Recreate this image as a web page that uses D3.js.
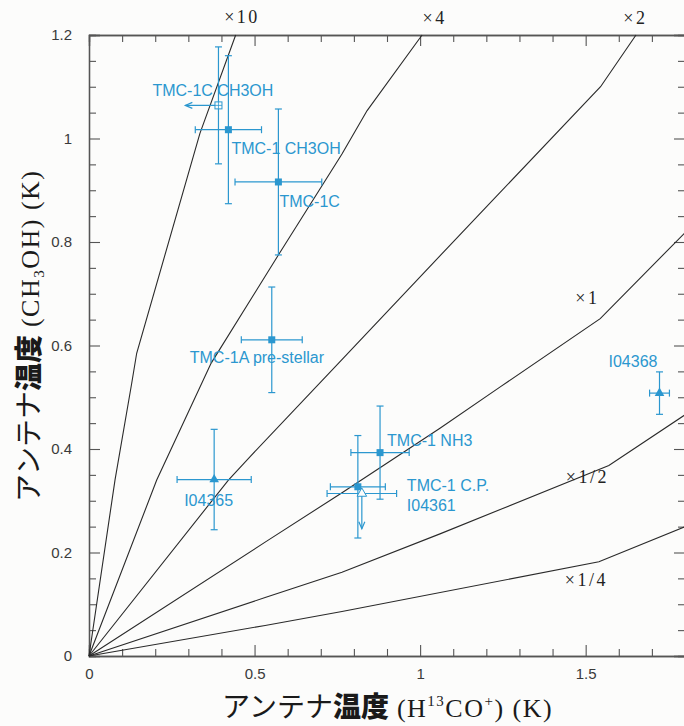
<!DOCTYPE html>
<html>
<head>
<meta charset="utf-8">
<script src="https://cdn.jsdelivr.net/npm/d3@7/dist/d3.min.js"></script>
<style>
  body { margin: 0; background: #fcfcfb; }
  svg { display: block; }
</style>
</head>
<body>
<svg id="chart" width="684" height="726"></svg>
<script>
// tick values and labels
const xMajorTicks = [0, 0.5, 1, 1.5];
const xTickLabels = ["0", "0.5", "1", "1.5"];
const xMinorTicks = [0.1, 0.2, 0.3, 0.4, 0.6, 0.7, 0.8, 0.9, 1.1, 1.2, 1.3, 1.4, 1.6, 1.7];
const yMajorTicks = [0, 0.2, 0.4, 0.6, 0.8, 1.0, 1.2];
const yTickLabels = ["0", "0.2", "0.4", "0.6", "0.8", "1", "1.2"];
const yMinorTicks = [0.05, 0.1, 0.15, 0.25, 0.3, 0.35, 0.45, 0.5, 0.55, 0.65, 0.7, 0.75,
                     0.85, 0.9, 0.95, 1.05, 1.1, 1.15];

// ratio curves (x = T(H13CO+), y = T(CH3OH))
const curveNames = ["×10", "×4", "×2", "×1", "×1/2", "×1/4"];
const curveX10 = [[0, 0], [0.0785, 0.34], [0.129, 0.527], [0.144, 0.585], [0.335, 1.01], [0.443, 1.2]];
const curveX4 = [[0, 0], [0.2045, 0.34], [0.369, 0.566], [0.571, 0.774], [0.764, 0.97], [0.84, 1.054], [1.006, 1.2]];
const curveX2 = [[0, 0], [0.421, 0.34], [0.486, 0.385], [0.761, 0.571], [0.99, 0.726], [1.218, 0.88], [1.545, 1.1], [1.652, 1.2]];
const curveX1 = [[0, 0], [0.532, 0.22], [0.763, 0.315], [1.06, 0.44], [1.242, 0.52], [1.544, 0.652], [1.8, 0.818]];
const curveXHalf = [[0, 0], [0.532, 0.113], [0.764, 0.162], [1.06, 0.236], [1.57, 0.368], [1.8, 0.466]];
const curveXQuarter = [[0, 0], [0.532, 0.059], [0.764, 0.086], [1.54, 0.182], [1.8, 0.25]];
const curves = [curveX10, curveX4, curveX2, curveX1, curveXHalf, curveXQuarter];
// where each ratio label sits (data units, text baseline)
const curveLabelX = [0.462, 1.044, 1.65, 1.505, 1.505, 1.502];
const curveLabelY = [1.224, 1.221, 1.221, 0.681, 0.335, 0.135];

// observed sources
const sourceNames = ["TMC-1C CH3OH", "TMC-1 CH3OH", "TMC-1C", "TMC-1A pre-stellar", "I04365",
                     "TMC-1 NH3", "TMC-1 C.P.", "I04361", "I04368"];
const sourceX    = [0.391, 0.421, 0.572, 0.552, 0.378, 0.879, 0.812, 0.824, 1.723];
const sourceY    = [1.064, 1.017, 0.916, 0.611, 0.341, 0.393, 0.327, 0.314, 0.508];
const sourceXErr = [0,     0.100, 0.131, 0.092, 0.112, 0.088, 0.083, 0.105, 0.030];
const sourceYErr = [0.113, 0.143, 0.141, 0.102, 0.097, 0.090, 0.099, 0,     0.041];
const sourceMarker = ["openSquare", "square", "square", "square", "triangle",
                      "square", "square", "openTriangle", "triangle"];
// upper limits: arrow length in K along x (left) or y (down)
const sourceXLimit = [0.1, 0, 0, 0, 0, 0, 0, 0, 0];
const sourceYLimit = [0, 0, 0, 0, 0, 0, 0, 0.068, 0];

// label offsets from the marker, px
const labelDx = [-66, 3, 1, -82, -30, 7, 49, 45, -51];
const labelDy = [-9, 24, 25, 23, 26, -7, 4, 17, -26];

const blue = "#2b97cf";
const svg = d3.select("#chart");
const margin = {left: 89, top: 35};
const plotW = 596, plotH = 621;

const x = d3.scaleLinear().domain([0, 1.8]).range([0, plotW]);
const y = d3.scaleLinear().domain([0, 1.2]).range([plotH, 0]);

const g = svg.append("g").attr("transform", `translate(${margin.left},${margin.top})`);

// axes: major and minor ticks on all four sides, pointing inward
function styleAxis(sel) {
  sel.select(".domain").attr("stroke", "#555").attr("stroke-width", 1.3);
  sel.selectAll(".tick line").attr("stroke", "#555").attr("stroke-width", 1.1);
  sel.selectAll("text").attr("fill", "#3a3a3a").style("font-family", "Liberation Sans, Arial, sans-serif")
    .style("font-size", "15px");
}

g.append("g").attr("transform", `translate(0,${plotH})`)
  .call(d3.axisBottom(x).tickValues(xMajorTicks).tickSize(-11).tickPadding(12)
    .tickFormat((d, i) => xTickLabels[i]))
  .call(styleAxis);
g.append("g").attr("transform", `translate(0,${plotH})`)
  .call(d3.axisBottom(x).tickValues(xMinorTicks).tickSize(-7).tickFormat(""))
  .call(styleAxis);
g.append("g")
  .call(d3.axisTop(x).tickValues(xMajorTicks).tickSize(-11).tickFormat(""))
  .call(styleAxis);
g.append("g")
  .call(d3.axisTop(x).tickValues(xMinorTicks).tickSize(-7).tickFormat(""))
  .call(styleAxis);

g.append("g")
  .call(d3.axisLeft(y).tickValues(yMajorTicks).tickSize(-11).tickPadding(17)
    .tickFormat((d, i) => yTickLabels[i]))
  .call(styleAxis);
g.append("g")
  .call(d3.axisLeft(y).tickValues(yMinorTicks).tickSize(-7).tickFormat(""))
  .call(styleAxis);
g.append("g").attr("transform", `translate(${plotW},0)`)
  .call(d3.axisRight(y).tickValues(yMajorTicks).tickSize(-11).tickFormat(""))
  .call(styleAxis);
g.append("g").attr("transform", `translate(${plotW},0)`)
  .call(d3.axisRight(y).tickValues(yMinorTicks).tickSize(-7).tickFormat(""))
  .call(styleAxis);

// ratio curves
const line = d3.line().x(d => x(d[0])).y(d => y(d[1]));
g.append("g").selectAll("path")
  .data(curves)
  .enter()
  .append("path")
  .attr("d", line)
  .attr("fill", "none")
  .attr("stroke", "#2a2a2a")
  .attr("stroke-width", 1.1);

g.append("g").selectAll("text")
  .data(curveNames)
  .enter()
  .append("text")
  .text(d => d)
  .attr("x", (d, i) => x(curveLabelX[i]))
  .attr("y", (d, i) => y(curveLabelY[i]))
  .attr("text-anchor", "middle")
  .attr("fill", "#222")
  .style("font-family", "Liberation Serif, Times New Roman, serif")
  .style("font-size", "18px")
  .style("letter-spacing", "2.5px");

// error bars, limits and markers
const pts = g.append("g").attr("stroke", blue).attr("fill", blue).attr("stroke-width", 1.2);
const cap = 3.5;

sourceNames.forEach((name, i) => {
  const cx = x(sourceX[i]), cy = y(sourceY[i]);
  const s = pts.append("g");
  if (sourceXErr[i] > 0) {
    const x0 = x(sourceX[i] - sourceXErr[i]), x1 = x(sourceX[i] + sourceXErr[i]);
    s.append("line").attr("x1", x0).attr("x2", x1).attr("y1", cy).attr("y2", cy);
    s.append("line").attr("x1", x0).attr("x2", x0).attr("y1", cy - cap).attr("y2", cy + cap);
    s.append("line").attr("x1", x1).attr("x2", x1).attr("y1", cy - cap).attr("y2", cy + cap);
  }
  if (sourceYErr[i] > 0) {
    const y0 = y(sourceY[i] - sourceYErr[i]), y1 = y(sourceY[i] + sourceYErr[i]);
    s.append("line").attr("x1", cx).attr("x2", cx).attr("y1", y0).attr("y2", y1);
    s.append("line").attr("x1", cx - cap).attr("x2", cx + cap).attr("y1", y0).attr("y2", y0);
    s.append("line").attr("x1", cx - cap).attr("x2", cx + cap).attr("y1", y1).attr("y2", y1);
  }
  if (sourceXLimit[i] > 0) {
    const xe = x(sourceX[i] - sourceXLimit[i]);
    s.append("line").attr("x1", cx).attr("x2", xe).attr("y1", cy).attr("y2", cy);
    s.append("path").attr("d", `M${xe + 7},${cy - 3}L${xe},${cy}L${xe + 7},${cy + 3}`).attr("fill", "none");
  }
  if (sourceYLimit[i] > 0) {
    const ye = y(sourceY[i] - sourceYLimit[i]);
    s.append("line").attr("x1", cx).attr("x2", cx).attr("y1", cy).attr("y2", ye);
    s.append("path").attr("d", `M${cx - 3},${ye - 7}L${cx},${ye}L${cx + 3},${ye - 7}`).attr("fill", "none");
  }
  const m = sourceMarker[i];
  if (m === "square") {
    s.append("rect").attr("x", cx - 3.5).attr("y", cy - 3.5).attr("width", 7).attr("height", 7)
      .attr("stroke", "none");
  } else if (m === "openSquare") {
    s.append("rect").attr("x", cx - 3.5).attr("y", cy - 3.5).attr("width", 7).attr("height", 7)
      .attr("fill", "#fcfcfb").attr("stroke-width", 1);
    s.append("path").attr("d", `M${cx - 3.5},${cy}H${cx + 3.5}M${cx},${cy - 3.5}V${cy + 3.5}`)
      .attr("stroke-width", 0.8);
  } else if (m === "triangle") {
    s.append("path").attr("d", d3.symbol(d3.symbolTriangle, 40)())
      .attr("transform", `translate(${cx},${cy})`).attr("stroke", "none");
  } else {
    s.append("path").attr("d", d3.symbol(d3.symbolTriangle, 40)())
      .attr("transform", `translate(${cx},${cy})`).attr("fill", "#fcfcfb").attr("stroke-width", 1);
  }
});

g.append("g").selectAll("text")
  .data(sourceNames)
  .enter()
  .append("text")
  .text(d => d)
  .attr("x", (d, i) => x(sourceX[i]) + labelDx[i])
  .attr("y", (d, i) => y(sourceY[i]) + labelDy[i])
  .attr("fill", blue)
  .style("font-family", "Liberation Sans, Arial, sans-serif")
  .style("font-size", "16px");

// axis titles
function axisTitle(t, mol, sub, subShift) {
  t.append("tspan").text("アンテナ").style("font-family", "Noto Sans CJK JP").style("font-weight", 400)
    .style("font-size", "28px");
  t.append("tspan").text("温度").style("font-family", "Noto Sans CJK JP").style("font-weight", 900)
    .style("font-size", "28px");
  const serif = t.append("tspan").style("font-family", "Liberation Serif, serif").style("font-size", "26px")
    .style("letter-spacing", "1.5px");
  serif.append("tspan").text(" (" + mol[0]);
  serif.append("tspan").text(sub[0]).attr("dy", subShift[0]).style("font-size", "15px");
  serif.append("tspan").text(mol[1]).attr("dy", -subShift[0]);
  if (sub[1]) {
    serif.append("tspan").text(sub[1]).attr("dy", subShift[1]).style("font-size", "15px");
    serif.append("tspan").text(")  (K)").attr("dy", -subShift[1]);
  } else {
    serif.append("tspan").text(")  (K)");
  }
}

svg.append("text")
  .attr("x", 222).attr("y", 717)
  .attr("fill", "#1a1a1a")
  .call(axisTitle, ["H", "CO"], ["13", "+"], [-11, -11]);

svg.append("text")
  .attr("transform", "translate(39,502) rotate(-90)")
  .attr("fill", "#1a1a1a")
  .call(axisTitle, ["CH", "OH"], ["3"], [5]);
</script>
</body>
</html>
